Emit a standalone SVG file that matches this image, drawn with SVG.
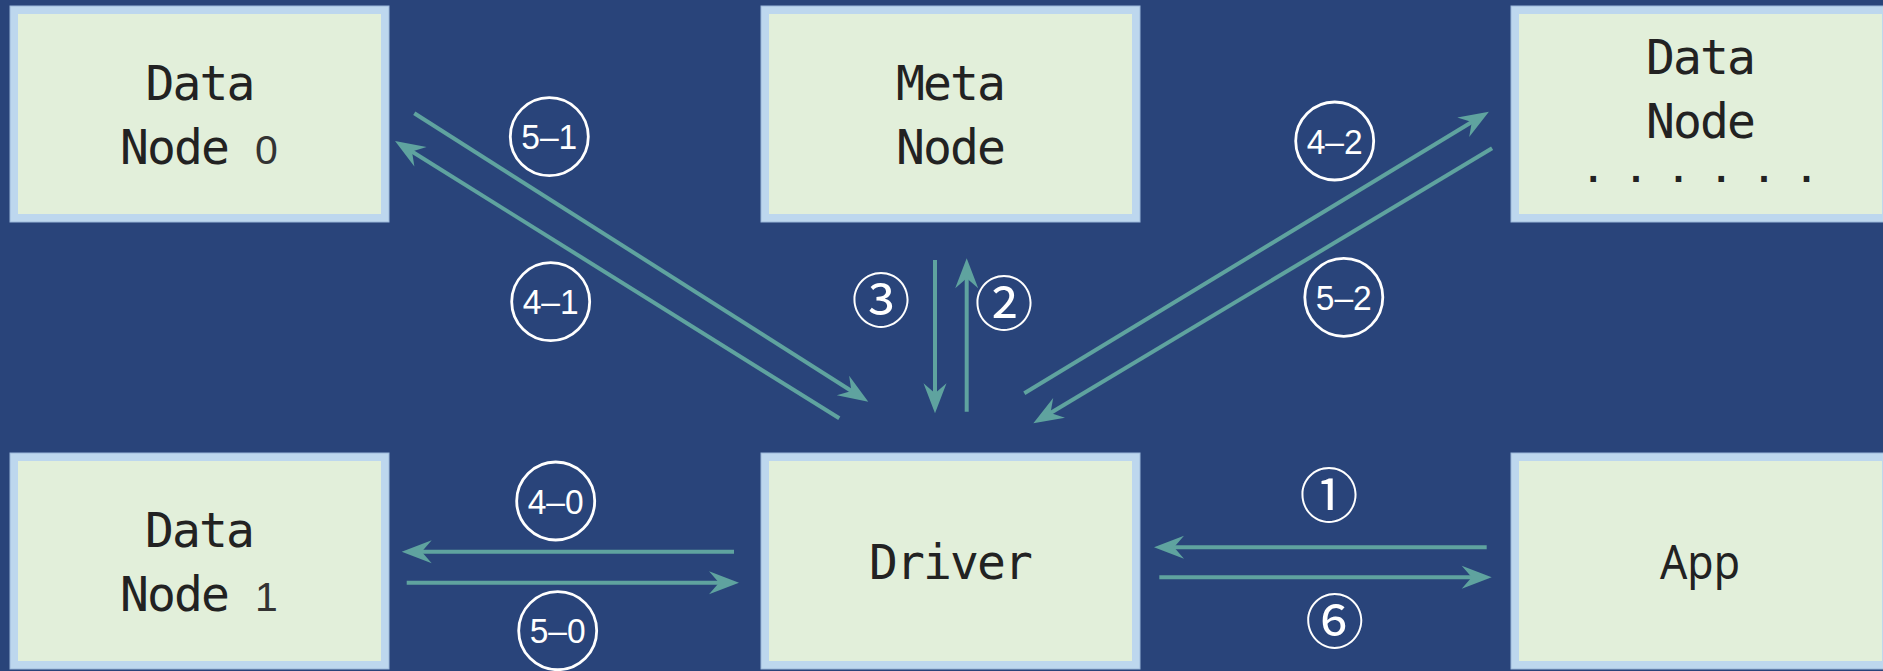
<svg xmlns="http://www.w3.org/2000/svg" width="1883" height="671" viewBox="0 0 1883 671">
  <defs>
    <style>
      .box { fill: #E2EFDA; stroke: #BDD7EE; stroke-width: 8; }
      .edge { fill: none; stroke: #9CB8DA; stroke-width: 1; }
      .lbl { font-family: "DejaVu Sans Mono", "Liberation Mono", monospace; font-size: 48px; fill: #222222; letter-spacing: -1.9px; }
      .dig { font-family: "Liberation Sans", Arial, sans-serif; font-size: 41px; letter-spacing: 0; fill: #333333; }
      .dots { font-family: "DejaVu Sans Mono", "Liberation Mono", monospace; font-size: 34px; font-weight: bold; fill: #222222; }
      .app { font-family: "Noto Sans", "Open Sans", sans-serif; font-size: 48px; fill: #222222; }
      .conn { stroke: #5FA39F; stroke-width: 4; fill: none; marker-end: url(#ah); }
      .ring { fill: none; stroke: #FFFFFF; stroke-width: 2.8; }
      .step { font-family: "Liberation Sans", Arial, sans-serif; font-size: 35px; fill: #FFFFFF; text-anchor: middle; }
      .cd { font-family: "Noto Sans CJK SC", "DejaVu Sans", sans-serif; font-size: 59px; fill: #FFFFFF; text-anchor: middle; }
    </style>
    <marker id="ah" viewBox="-13 -13 32 26" refX="0" refY="0" markerWidth="32" markerHeight="26" markerUnits="userSpaceOnUse" orient="auto">
      <path d="M18,0 L-12,-11.5 L-2,0 L-12,11.5 Z" fill="#5FA39F"/>
    </marker>
  </defs>

  <rect width="1883" height="671" fill="#29447A"/>

  <g id="data-node-0">
    <rect class="box" x="14" y="10" width="371" height="208"/>
    <rect class="edge" x="10" y="6" width="379" height="216"/>
    <text class="lbl" x="199.5" y="100" text-anchor="middle">Data</text>
    <text class="lbl" x="120" y="164">Node <tspan class="dig">0</tspan></text>
  </g>

  <g id="meta-node">
    <rect class="box" x="765" y="10" width="371" height="208"/>
    <rect class="edge" x="761" y="6" width="379" height="216"/>
    <text class="lbl" x="950" y="100" text-anchor="middle">Meta</text>
    <text class="lbl" x="950" y="164" text-anchor="middle">Node</text>
  </g>

  <g id="data-node-n">
    <rect class="box" x="1515" y="10" width="371" height="208"/>
    <rect class="edge" x="1511" y="6" width="379" height="216"/>
    <text class="lbl" x="1700" y="74" text-anchor="middle">Data</text>
    <text class="lbl" x="1700" y="138" text-anchor="middle">Node</text>
    <text class="dots" x="1583" y="182" style="letter-spacing:22.2px">......</text>
  </g>

  <g id="data-node-1">
    <rect class="box" x="14" y="457" width="371" height="208"/>
    <rect class="edge" x="10" y="453" width="379" height="216"/>
    <text class="lbl" x="199" y="547" text-anchor="middle">Data</text>
    <text class="lbl" x="120" y="611">Node <tspan class="dig">1</tspan></text>
  </g>

  <g id="driver">
    <rect class="box" x="765" y="457" width="371" height="208"/>
    <rect class="edge" x="761" y="453" width="379" height="216"/>
    <text class="lbl" x="950" y="579" text-anchor="middle">Driver</text>
  </g>

  <g id="app">
    <rect class="box" x="1515" y="457" width="371" height="208"/>
    <rect class="edge" x="1511" y="453" width="379" height="216"/>
    <text class="app" x="1700" y="579" text-anchor="middle" textLength="80" lengthAdjust="spacingAndGlyphs">App</text>
  </g>

  <g id="connectors">
    <line class="conn" x1="414.3" y1="113.3" x2="853.1" y2="392.0"/>
    <line class="conn" x1="839.3" y1="418.3" x2="410.3" y2="150.5"/>
    <line class="conn" x1="935" y1="260" x2="935" y2="395.3"/>
    <line class="conn" x1="966.7" y1="411.7" x2="966.7" y2="276.3"/>
    <line class="conn" x1="1024.3" y1="393.3" x2="1473.5" y2="121.0"/>
    <line class="conn" x1="1492.1" y1="148.3" x2="1048.8" y2="414.0"/>
    <line class="conn" x1="734" y1="551.7" x2="419.7" y2="551.7"/>
    <line class="conn" x1="406.7" y1="582.7" x2="721" y2="582.7"/>
    <line class="conn" x1="1486.7" y1="547.3" x2="1172" y2="547.3"/>
    <line class="conn" x1="1159.3" y1="577.3" x2="1473.7" y2="577.3"/>
  </g>

  <g id="step-labels">
    <circle class="ring" cx="549.3" cy="136.7" r="39"/>
    <text class="step" x="549.3" y="149.3" textLength="56" lengthAdjust="spacingAndGlyphs">5–1</text>
    <circle class="ring" cx="550.7" cy="301.7" r="39"/>
    <text class="step" x="550.7" y="314.3" textLength="56" lengthAdjust="spacingAndGlyphs">4–1</text>
    <circle class="ring" cx="1334.7" cy="141" r="39"/>
    <text class="step" x="1334.7" y="153.6" textLength="56" lengthAdjust="spacingAndGlyphs">4–2</text>
    <circle class="ring" cx="1343.8" cy="297.3" r="39"/>
    <text class="step" x="1343.8" y="309.9" textLength="56" lengthAdjust="spacingAndGlyphs">5–2</text>
    <circle class="ring" cx="555.7" cy="501" r="39"/>
    <text class="step" x="555.7" y="513.6" textLength="56" lengthAdjust="spacingAndGlyphs">4–0</text>
    <circle class="ring" cx="557.7" cy="630.7" r="39"/>
    <text class="step" x="557.7" y="643.3" textLength="56" lengthAdjust="spacingAndGlyphs">5–0</text>
    <text class="cd" x="881" y="322">③</text>
    <text class="cd" x="1004" y="324.5">②</text>
    <text class="cd" x="1329" y="516.5">①</text>
    <text class="cd" x="1334.7" y="643">⑥</text>
  </g>
</svg>
